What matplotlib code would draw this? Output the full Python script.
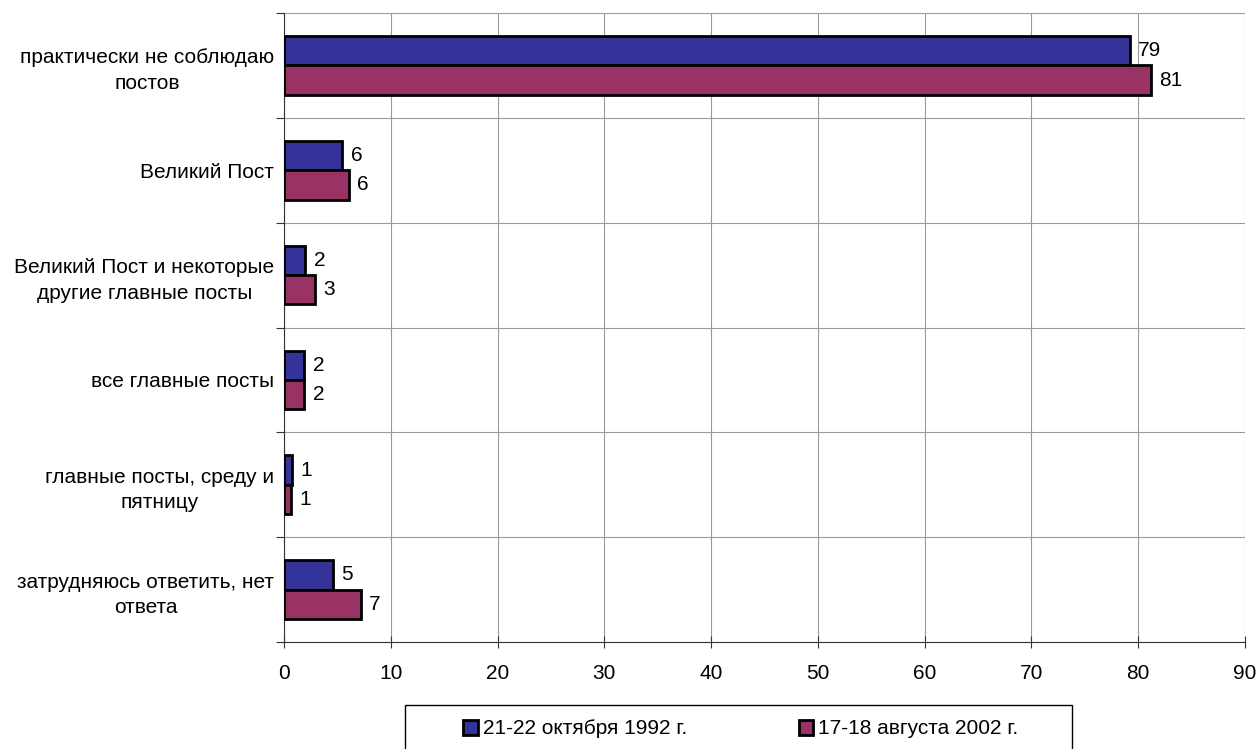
import matplotlib.pyplot as plt
from matplotlib.patches import Rectangle
import numpy as np

plt.rcParams['font.family'] = ['Liberation Sans', 'DejaVu Sans']

categories = ['практически не соблюдаю\nпостов', 'Великий Пост',
              'Великий Пост и некоторые\nдругие главные посты', 'все главные посты',
              'главные посты, среду и\nпятницу', 'затрудняюсь ответить, нет\nответа']
series_names = ['21-22 октября 1992 г.', '17-18 августа 2002 г.']
vals_1992 = [79.2, 5.45, 2.0, 1.9, 0.72, 4.55]
vals_2002 = [81.2, 6.1, 2.9, 1.9, 0.66, 7.2]
labels_1992 = ['79', '6', '2', '2', '1', '5']
labels_2002 = ['81', '6', '3', '2', '1', '7']
colors = ['#333399', '#993366']

fs = 15
fig = plt.figure(figsize=(12.6, 7.49), dpi=100)
ax = fig.add_axes([284 / 1260, 1 - 642 / 749, 961 / 1260, 629 / 749])

n = len(categories)
y = np.arange(n) + 0.5
h = 0.28
b1 = ax.barh(y - h / 2, vals_1992, height=h, color=colors[0], edgecolor='black', linewidth=2, label=series_names[0], zorder=3)
b2 = ax.barh(y + h / 2, vals_2002, height=h, color=colors[1], edgecolor='black', linewidth=2, label=series_names[1], zorder=3)
ax.bar_label(b1, labels=labels_1992, padding=6, fontsize=fs)
ax.bar_label(b2, labels=labels_2002, padding=6, fontsize=fs)

ax.set_ylim(n, 0)
ax.set_xlim(0, 90)
ax.set_xticks(np.arange(0, 91, 10))
ax.set_yticks(np.arange(0, n + 1))
ax.set_yticklabels([])
ax.set_yticks(y, minor=True)
ax.set_yticklabels(categories, minor=True, fontsize=fs)
for lab in ax.get_yticklabels(minor=True):
    lab.set_multialignment('center')
    lab.set_linespacing(1.45)
ax.tick_params(axis='y', which='minor', length=0, pad=7)
ax.tick_params(axis='y', which='major', length=6, direction='out', color='#333333')
ax.tick_params(axis='x', labelsize=fs, length=8, direction='inout', color='#333333', pad=12)

ax.grid(True, which='major', color='#999999', linewidth=0.8, zorder=0)
for s in ['top', 'right']:
    ax.spines[s].set_visible(False)
ax.spines['left'].set_color('#333333')
ax.spines['bottom'].set_color('#333333')

leg = fig.legend(loc='center left', bbox_to_anchor=(463 / 1260, 1 - 729 / 749), ncol=2, fontsize=fs,
                 frameon=False, handlelength=0.7, handleheight=0.7, handletextpad=0.25,
                 columnspacing=5.35, borderpad=0, borderaxespad=0)
for p in leg.get_patches():
    p.set_linewidth(2)

fig.patches.append(Rectangle((405 / 1260, -0.05), (1072 - 405) / 1260, 0.05 + 44 / 749,
                             transform=fig.transFigure, fill=False, edgecolor='black', linewidth=1))

fig.savefig('out.png', dpi=100)
